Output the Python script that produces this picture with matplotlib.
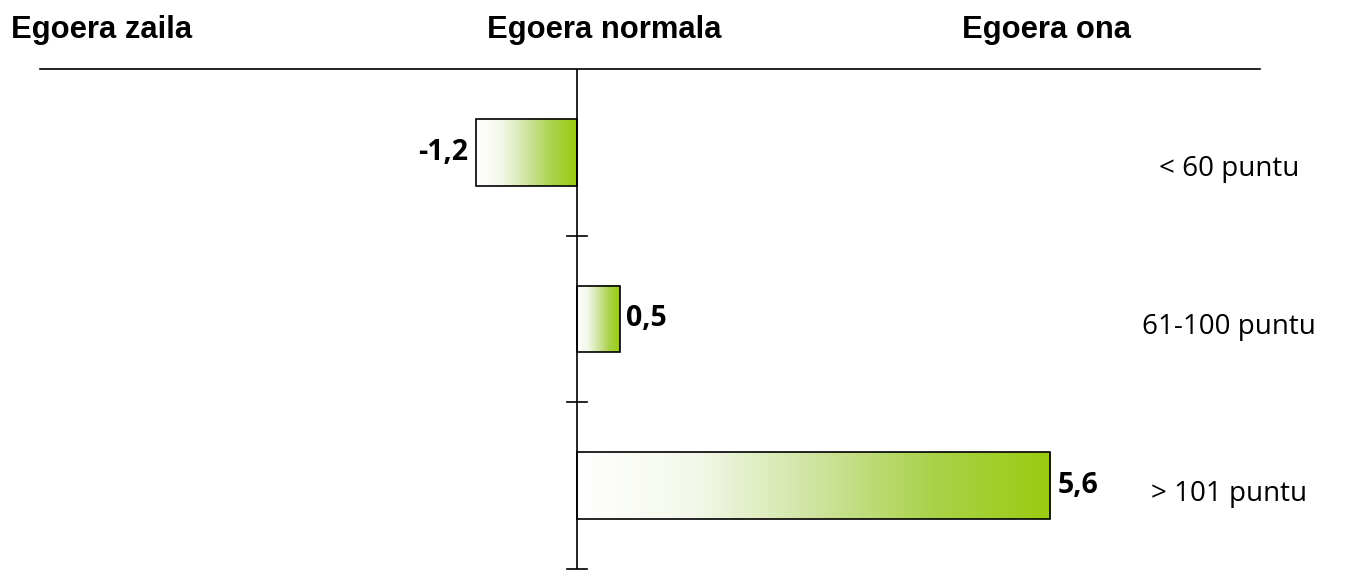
import numpy as np
import matplotlib.pyplot as plt
from matplotlib.colors import LinearSegmentedColormap

categories = ['< 60 puntu', '61-100 puntu', '> 101 puntu']
values = [-1.2, 0.5, 5.6]
value_labels = ['-1,2', '0,5', '5,6']
headers = ['Egoera zaila', 'Egoera normala', 'Egoera ona']

fig = plt.figure(figsize=(13.51, 5.84), dpi=100)
ax = fig.add_axes([40 / 1351, 1 - 569 / 584, 1220 / 1351, 500 / 584])

# white -> green fill, left to right inside each bar
green = LinearSegmentedColormap.from_list(
    'green', ['#ffffff', '#f3f8ea', '#cfe4a0', '#a9d24a', '#99cc10'])
grad = np.linspace(0, 1, 256).reshape(1, -1)

y = np.arange(len(categories))
bars = ax.barh(y, values, height=0.4, facecolor='none', edgecolor='black',
               linewidth=1.2, zorder=3)
for b in bars:
    x0, y0, w, h = b.get_x(), b.get_y(), b.get_width(), b.get_height()
    left, right = min(x0, x0 + w), max(x0, x0 + w)
    ax.imshow(grad, cmap=green, aspect='auto', zorder=2,
              extent=[left, right, y0 + h, y0], interpolation='bilinear')

ax.set_xlim(-6.36, 8.08)
ax.set_ylim(2.5, -0.5)

# value labels
for yi, v, lab in zip(y, values, value_labels):
    if v < 0:
        ax.text(v - 0.09, yi, lab, ha='right', va='center', fontsize=20.5,
                fontweight='bold', family='Open Sans')
    else:
        ax.text(v + 0.08, yi, lab, ha='left', va='center', fontsize=20.5,
                fontweight='bold', family='Open Sans')

# category names on the right
for yi, cat, dy in zip(y, categories, [0.1, 0.05, 0.05]):
    ax.text(7.71, yi + dy, cat, ha='center', va='center', fontsize=20,
            family='Open Sans')

# central axis with ticks between the groups
ax.axvline(0, color='black', lw=1.2, zorder=4)
for yb in [0.5, 1.5, 2.5]:
    ax.plot([-0.12, 0.12], [yb, yb], color='black', lw=1.2, clip_on=False, zorder=4)

for s in ['left', 'right', 'bottom']:
    ax.spines[s].set_visible(False)
ax.spines['top'].set_linewidth(1.2)
ax.set_xticks([])
ax.set_yticks([])

for xh, h in zip([102, 604, 1047], headers):
    fig.text(xh / 1351, 1 - 30 / 584, h, ha='center', va='center', fontsize=22.3,
             fontweight='bold', family='Liberation Sans')

fig.savefig('out.png', dpi=100)
